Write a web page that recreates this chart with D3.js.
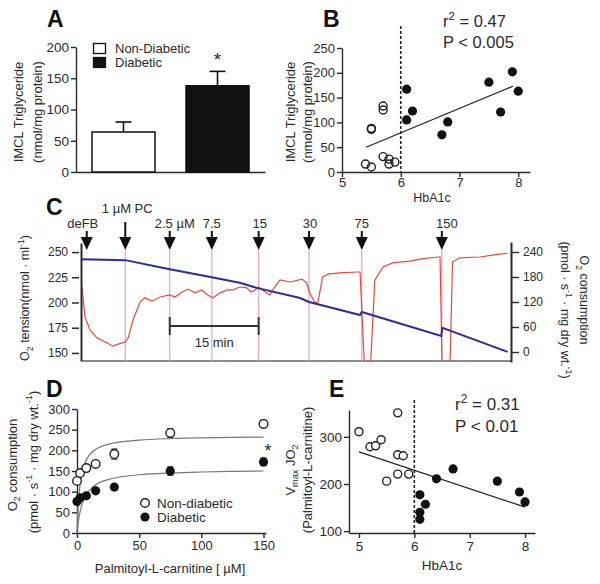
<!DOCTYPE html>
<html><head><meta charset="utf-8">
<script src="https://cdn.jsdelivr.net/npm/d3@7"></script>
<style>
html,body{margin:0;padding:0;background:#fff;}
svg{display:block;font-family:"Liberation Sans",Arial,Helvetica,sans-serif;}
</style></head>
<body><svg id="c" width="600" height="584"></svg>
<script>
// ---------- DATA ----------
// Panel A
const barCats = ['Non-Diabetic', 'Diabetic'];
const barVals = [64, 138];
const barErr = [16, 23];
const aTicks = [0, 50, 100, 150, 200];
// Panel B
const bNonX = [5.4, 5.5, 5.5, 5.5, 5.7, 5.7, 5.7, 5.8, 5.8, 5.9];
const bNonY = [16, 10, 86, 88, 133, 125, 31, 26, 16, 20];
const bDiaX = [6.1, 6.1, 6.2, 6.7, 6.8, 7.5, 7.7, 7.9, 8.0];
const bDiaY = [167, 105, 123, 75, 101, 181, 121, 202, 163];
const bFitX = [5.41, 7.91];
const bFitY = [50, 173];
const bYTicks = [0, 50, 100, 150, 200, 250];
const bXTicks = [5, 6, 7, 8];
// Panel C (time in minutes)
const cEventT = [0.8, 7.3, 14.8, 21.9, 29.8, 38.3, 47.2, 60.7];
const cEventLabel = ['deFB', '1 \u00b5M PC', '2.5 \u00b5M', '7.5', '15', '30', '75', '150'];
const cBlueT = [0, 7.3, 14.8, 21.9, 26.6, 29.8, 36.8, 38.3, 46.9, 47.2, 60.6, 60.8, 71.8];
const cBlueV = [243, 242, 233, 225, 219.5, 214, 204.5, 200.5, 187.6, 190.6, 166.8, 174.8, 151];
const cRedT = [0, 0.5, 1.35, 2.5, 4.2, 5.2, 6.1, 7.3, 7.8, 8.6, 9.8, 10.6, 11.8, 13.2, 14.8, 15.7, 16.9, 17.9, 19.1, 20.2, 21.2, 22.1, 23.3, 24.5, 25.5, 26.6, 27.8, 28.5, 29.2, 29.8, 30.9, 31.7, 32.2, 33.4, 35.1, 37.1, 37.9, 38.4, 39.3, 39.8, 40.6, 41.5, 43.5, 46.5, 46.9, 47.8, 48.5, 49.4, 50.8, 52.4, 55.3, 57.0, 60.0, 60.4, 60.8, 62.0, 62.5, 63.7, 67.1, 70.5, 71.8];
const cRedV = [156, 84, 53, 34, 22, 14, 19, 24, 34, 77, 120, 130, 122, 132, 137, 132, 144, 151, 142, 149, 137, 130, 142, 149, 149, 156, 154, 144, 149, 156, 144, 137, 149, 173, 168, 175, 166, 142, 118, 120, 180, 187, 190, 192, 192, -80, -80, 173, 204, 214, 218, 223, 228, 228, -80, -80, 216, 226, 228, 235, 237];
const cLeftTicks = [150, 175, 200, 225, 250];
const cRightTicks = [0, 60, 120, 180, 240];
const cScaleBar = [14.8, 29.8];
// Panel D
const dConc = [0, 2.5, 7.5, 15, 30, 75, 150];
const dNon = [126, 145, 157, 167, 191, 242, 264];
const dNonErr = [4, 4, 4, 5, 12, 10, 9];
const dDia = [76, 85, 90, 102, 111, 150, 172];
const dDiaErr = [4, 4, 4, 4, 4, 10, 9];
const dFitX = [0, 0.5, 1, 2, 3, 5, 8, 12, 18, 25, 35, 50, 75, 100, 125, 150];
const dFitNon = [0, 39.3, 67.4, 104.9, 128.7, 157.3, 179.8, 195.3, 207.2, 214.5, 220.3, 224.8, 228.4, 230.2, 231.4, 232.1];
const dFitDia = [0, 14.1, 25.8, 44.3, 58.1, 77.5, 95.4, 109.4, 121.9, 129.2, 135.6, 140.9, 145.3, 147.6, 149.0, 150.0];
const dYTicks = [0, 50, 100, 150, 200, 250, 300];
const dXTicks = [0, 50, 100, 150];
// Panel E
const eNonX = [5.0, 5.2, 5.3, 5.4, 5.7, 5.7, 5.8, 5.7, 5.5, 5.9];
const eNonY = [311, 279, 281, 294, 351, 262, 260, 221, 206, 221];
const eDiaX = [6.1, 6.2, 6.1, 6.1, 6.4, 6.7, 7.5, 7.9, 8.0];
const eDiaY = [177, 157, 140, 125, 211, 232, 206, 183, 162];
const eFitX = [5.0, 8.0];
const eFitY = [268, 151];
const eYTicks = [100, 200, 300];
const eXTicks = [5, 6, 7, 8];

// ---------- HELPERS ----------
const svg = d3.select('#c');
const INK = '#2a2a2a';
const FONT = '"Liberation Sans",Arial,Helvetica,sans-serif';
const intFmt = d3.format('d');

function styleAxis(g, fs) {
  g.selectAll('path.domain').attr('stroke', INK).attr('stroke-width', 1.4);
  g.selectAll('.tick line').attr('stroke', INK).attr('stroke-width', 1.4);
  g.selectAll('.tick text').attr('fill', INK).attr('font-size', fs).attr('font-family', FONT);
}
function rich(textSel, parts, fs) {
  let shift = 0;
  parts.forEach(([t, m]) => {
    const target = m === 'sub' ? fs * 0.3 : m === 'sup' ? -fs * 0.42 : 0;
    const ts = textSel.append('tspan').text(t).attr('dy', target - shift);
    if (m) ts.attr('font-size', fs * 0.7);
    shift = target;
  });
}
function vlabel(x, y, parts, fs, rot) {
  const t = svg.append('text')
    .attr('transform', `translate(${x},${y}) rotate(${rot || -90})`)
    .attr('text-anchor', 'middle').attr('font-size', fs).attr('fill', INK)
    .attr('y', fs * 0.35);
  rich(t, parts, fs);
  return t;
}
function label(x, y, txt, fs, opts) {
  opts = opts || {};
  return svg.append('text').attr('x', x).attr('y', y).text(txt)
    .attr('font-size', fs).attr('fill', opts.fill || INK)
    .attr('font-weight', opts.bold ? 'bold' : null)
    .attr('text-anchor', opts.anchor || 'start');
}
function panelLetter(x, y, t) { label(x, y, t, 23, { bold: true, fill: '#111' }); }

// ---------- PANEL A ----------
{
  const x = d3.scaleBand().domain(barCats).range([76, 265]).paddingInner(0.33).paddingOuter(0.17);
  const y = d3.scaleLinear().domain([0, 200]).range([172, 47]);
  const g = svg.append('g');
  const ax = g.append('g').attr('transform', 'translate(76,0)')
    .call(d3.axisLeft(y).tickValues(aTicks).tickSize(5).tickPadding(2).tickSizeOuter(0));
  styleAxis(ax, 13.5);
  const bx = g.append('g').attr('transform', 'translate(0,172)')
    .call(d3.axisBottom(x).tickSize(0).tickFormat(''));
  styleAxis(bx, 12);
  barCats.forEach((c, i) => {
    const cx = x(c) + x.bandwidth() / 2;
    g.append('line').attr('x1', cx).attr('x2', cx).attr('y1', y(barVals[i])).attr('y2', y(barVals[i] + barErr[i]))
      .attr('stroke', '#111').attr('stroke-width', 1.6);
    g.append('line').attr('x1', cx - 8).attr('x2', cx + 8).attr('y1', y(barVals[i] + barErr[i])).attr('y2', y(barVals[i] + barErr[i]))
      .attr('stroke', '#111').attr('stroke-width', 1.6);
  });
  g.selectAll('rect.bar').data(barCats).enter().append('rect')
    .attr('x', d => x(d)).attr('width', x.bandwidth())
    .attr('y', (d, i) => y(barVals[i])).attr('height', (d, i) => y(0) - y(barVals[i]))
    .attr('fill', (d, i) => i ? '#111' : '#fff').attr('stroke', '#111').attr('stroke-width', 1.5);
  label(x(barCats[1]) + x.bandwidth() / 2, y(barVals[1] + barErr[1]) - 5, '*', 19, { anchor: 'middle' });
  barCats.forEach((c, i) => {
    g.append('rect').attr('x', 93.5).attr('y', 43.5 + i * 14).attr('width', 12).attr('height', 10)
      .attr('fill', i ? '#111' : '#fff').attr('stroke', '#111').attr('stroke-width', 1.3);
    label(115, 53 + i * 14, c, 13);
  });
  vlabel(18, 112, [['IMCL Triglyceride', '']], 13);
  vlabel(37, 112, [['(nmol/mg protein)', '']], 13);
  panelLetter(47, 27, 'A');
}

// ---------- PANEL B ----------
{
  const x = d3.scaleLinear().domain([5, 8.2]).range([342, 530]);
  const y = d3.scaleLinear().domain([0, 250]).range([172, 48]);
  const g = svg.append('g');
  const ax = g.append('g').attr('transform', 'translate(342,0)')
    .call(d3.axisLeft(y).tickValues(bYTicks).tickSize(5).tickPadding(2).tickSizeOuter(0));
  styleAxis(ax, 13);
  const bx = g.append('g').attr('transform', 'translate(0,172)')
    .call(d3.axisBottom(x).tickValues(bXTicks).tickFormat(intFmt).tickSize(5).tickPadding(1).tickSizeOuter(0));
  styleAxis(bx, 13);
  g.append('line').attr('x1', x(6)).attr('x2', x(6)).attr('y1', 26).attr('y2', 172)
    .attr('stroke', '#222').attr('stroke-width', 1.6).attr('stroke-dasharray', '3,2');
  g.append('line').attr('x1', x(bFitX[0])).attr('x2', x(bFitX[1])).attr('y1', y(bFitY[0])).attr('y2', y(bFitY[1]))
    .attr('stroke', '#222').attr('stroke-width', 1.2);
  bNonX.forEach((v, i) => g.append('circle').attr('cx', x(v)).attr('cy', y(bNonY[i])).attr('r', 4)
    .attr('fill', 'none').attr('stroke', '#222').attr('stroke-width', 1.4));
  bDiaX.forEach((v, i) => g.append('circle').attr('cx', x(v)).attr('cy', y(bDiaY[i])).attr('r', 4.6)
    .attr('fill', '#111'));
  label(432, 202, 'HbA1c', 12.5, { anchor: 'middle' });
  const t1 = svg.append('text').attr('x', 443).attr('y', 27).attr('font-size', 16.5).attr('fill', INK);
  rich(t1, [['r', ''], ['2', 'sup'], [' = 0.47', '']], 16.5);
  label(443, 48, 'P < 0.005', 16.5);
  vlabel(290, 112, [['IMCL Triglyceride', '']], 13);
  vlabel(307, 112, [['(nmol/mg protein)', '']], 13);
  panelLetter(323, 27, 'B');
}

// ---------- PANEL C ----------
{
  const x = d3.scaleLinear().domain([0, 72.2]).range([82, 510]);
  const yL = d3.scaleLinear().domain([142, 259]).range([361, 243]);
  const yR = d3.scaleLinear().domain([-24, 264]).range([362, 242]);
  const g = svg.append('g');
  g.append('line').attr('x1', 82).attr('x2', 511).attr('y1', 361).attr('y2', 361)
    .attr('stroke', '#8a8a8a').attr('stroke-width', 2);
  cEventT.slice(1).forEach(t => g.append('line').attr('x1', x(t)).attr('x2', x(t)).attr('y1', 250).attr('y2', 361)
    .attr('stroke', '#e6a3c4').attr('stroke-width', 1.2));
  svg.append('clipPath').attr('id', 'cclip').append('rect').attr('x', 82).attr('y', 240).attr('width', 429).attr('height', 121);
  const redLine = d3.line().x((d, i) => x(cRedT[i])).y(d => yR(d));
  g.append('path').attr('d', redLine(cRedV)).attr('fill', 'none').attr('stroke', '#e9463b')
    .attr('stroke-width', 1.2).attr('clip-path', 'url(#cclip)');
  const blueLine = d3.line().x((d, i) => x(cBlueT[i])).y(d => yL(d));
  g.append('path').attr('d', blueLine(cBlueV)).attr('fill', 'none').attr('stroke', '#2c2c9e')
    .attr('stroke-width', 2);
  const al = g.append('g').attr('transform', 'translate(81,0)')
    .call(d3.axisLeft(yL).tickValues(cLeftTicks).tickSize(9).tickPadding(4).tickSizeOuter(0));
  styleAxis(al, 12);
  al.selectAll('path.domain').attr('stroke-width', 2);
  al.selectAll('.tick line').attr('x2', -2).attr('x1', -9).attr('stroke-width', 1.5);
  const ar = g.append('g').attr('transform', 'translate(511,0)')
    .call(d3.axisRight(yR).tickValues(cRightTicks).tickSize(8).tickPadding(4).tickSizeOuter(0));
  styleAxis(ar, 12);
  ar.selectAll('path.domain').attr('stroke-width', 2);
  const dx = [-4, 2, 5, 0, 1, 1, 0, 5];
  cEventT.forEach((t, i) => {
    const cx = x(t);
    const top = i === 1 ? 222 : 231;
    g.append('line').attr('x1', cx).attr('x2', cx).attr('y1', top).attr('y2', 240)
      .attr('stroke', '#111').attr('stroke-width', 2);
    g.append('path').attr('d', `M${cx - 6},237 L${cx + 6},237 L${cx},250 Z`).attr('fill', '#111');
    label(cx + dx[i], i === 1 ? 213 : 228, cEventLabel[i], 13, { anchor: 'middle' });
  });
  const sy = 326;
  g.append('line').attr('x1', x(cScaleBar[0])).attr('x2', x(cScaleBar[1])).attr('y1', sy).attr('y2', sy).attr('stroke', '#333').attr('stroke-width', 2);
  cScaleBar.forEach(t => g.append('line').attr('x1', x(t)).attr('x2', x(t)).attr('y1', sy - 9).attr('y2', sy + 9).attr('stroke', '#333').attr('stroke-width', 2));
  label((x(cScaleBar[0]) + x(cScaleBar[1])) / 2, 347, '15 min', 13, { anchor: 'middle' });
  vlabel(25, 298, [['O', ''], ['2', 'sub'], [' tension(nmol \u00b7 ml', ''], ['-1', 'sup'], [')', '']], 12.5);
  vlabel(584, 300, [['O', ''], ['2', 'sub'], [' consumption', '']], 12.5, 90);
  vlabel(565, 310, [['(pmol \u00b7 s', ''], ['-1', 'sup'], [' \u00b7 mg dry wt.', ''], ['-1', 'sup'], [')', '']], 12.5, 90);
  panelLetter(46, 215, 'C');
}

// ---------- PANEL D ----------
{
  const x = d3.scaleLinear().domain([0, 152]).range([77, 266]);
  const y = d3.scaleLinear().domain([0, 300]).range([533, 409]);
  const g = svg.append('g');
  const ax = g.append('g').attr('transform', 'translate(77,0)')
    .call(d3.axisLeft(y).tickValues(dYTicks).tickSize(5).tickPadding(2).tickSizeOuter(0));
  styleAxis(ax, 13);
  const bx = g.append('g').attr('transform', 'translate(0,533)')
    .call(d3.axisBottom(x).tickValues(dXTicks).tickSize(5).tickPadding(3).tickSizeOuter(0));
  styleAxis(bx, 13);
  const fl = d3.line().x((d, i) => x(dFitX[i])).y(d => y(d)).curve(d3.curveMonotoneX);
  g.append('path').attr('d', fl(dFitNon)).attr('fill', 'none').attr('stroke', '#777').attr('stroke-width', 1.2);
  g.append('path').attr('d', fl(dFitDia)).attr('fill', 'none').attr('stroke', '#777').attr('stroke-width', 1.2);
  const errs = (vals, err) => dConc.forEach((c, i) => {
    const cx = x(c), y1 = y(vals[i] - err[i]), y2 = y(vals[i] + err[i]);
    g.append('line').attr('x1', cx).attr('x2', cx).attr('y1', y1).attr('y2', y2).attr('stroke', '#222').attr('stroke-width', 1.3);
    [y1, y2].forEach(yy => g.append('line').attr('x1', cx - 3).attr('x2', cx + 3).attr('y1', yy).attr('y2', yy).attr('stroke', '#222').attr('stroke-width', 1.3));
  });
  errs(dNon, dNonErr); errs(dDia, dDiaErr);
  dConc.forEach((c, i) => g.append('circle').attr('cx', x(c)).attr('cy', y(dNon[i])).attr('r', 4.3)
    .attr('fill', '#fff').attr('stroke', '#222').attr('stroke-width', 1.4));
  dConc.forEach((c, i) => g.append('circle').attr('cx', x(c)).attr('cy', y(dDia[i])).attr('r', 4.6).attr('fill', '#111'));
  label(268, 457, '*', 18, { anchor: 'middle' });
  g.append('circle').attr('cx', 145).attr('cy', 503).attr('r', 4.3).attr('fill', '#fff').attr('stroke', '#222').attr('stroke-width', 1.4);
  g.append('circle').attr('cx', 145).attr('cy', 517).attr('r', 4.6).attr('fill', '#111');
  label(157, 508, 'Non-diabetic', 13.5);
  label(157, 522, 'Diabetic', 13.5);
  label(170, 573, 'Palmitoyl-L-carnitine [ \u00b5M]', 13, { anchor: 'middle' });
  vlabel(12, 465, [['O', ''], ['2', 'sub'], [' consumption', '']], 13);
  vlabel(33, 462, [['(pmol \u00b7 s', ''], ['-1', 'sup'], [' \u00b7 mg dry wt.', ''], ['-1', 'sup'], [')', '']], 13);
  panelLetter(46, 397, 'D');
}

// ---------- PANEL E ----------
{
  const x = d3.scaleLinear().domain([4.82, 8.18]).range([349, 535]);
  const y = d3.scaleLinear().domain([96, 357]).range([533, 410]);
  const g = svg.append('g');
  const ax = g.append('g').attr('transform', 'translate(349,0)')
    .call(d3.axisLeft(y).tickValues(eYTicks).tickSize(5).tickPadding(2).tickSizeOuter(0));
  styleAxis(ax, 13.5);
  const bx = g.append('g').attr('transform', 'translate(0,533)')
    .call(d3.axisBottom(x).tickValues(eXTicks).tickFormat(intFmt).tickSize(5).tickPadding(3).tickSizeOuter(0));
  styleAxis(bx, 13.5);
  g.append('line').attr('x1', x(6)).attr('x2', x(6)).attr('y1', 400).attr('y2', 533)
    .attr('stroke', '#222').attr('stroke-width', 1.6).attr('stroke-dasharray', '3,2');
  g.append('line').attr('x1', x(eFitX[0])).attr('x2', x(eFitX[1])).attr('y1', y(eFitY[0])).attr('y2', y(eFitY[1]))
    .attr('stroke', '#222').attr('stroke-width', 1.2);
  eNonX.forEach((v, i) => g.append('circle').attr('cx', x(v)).attr('cy', y(eNonY[i])).attr('r', 4)
    .attr('fill', '#fff').attr('stroke', '#222').attr('stroke-width', 1.4));
  eDiaX.forEach((v, i) => g.append('circle').attr('cx', x(v)).attr('cy', y(eDiaY[i])).attr('r', 4.6).attr('fill', '#111'));
  label(442, 570, 'HbA1c', 13.5, { anchor: 'middle' });
  const t1 = svg.append('text').attr('x', 455).attr('y', 410).attr('font-size', 17).attr('fill', INK);
  rich(t1, [['r', ''], ['2', 'sup'], [' = 0.31', '']], 17);
  label(455, 432, 'P < 0.01', 17);
  vlabel(290, 470, [['V', ''], ['max', 'sub'], [' ', ''], ['J', ''], ['O', ''], ['2', 'sub']], 13);
  vlabel(307, 470, [['(Palmitoyl-L-carnitine)', '']], 13);
  panelLetter(329, 397, 'E');
}
</script></body></html>
